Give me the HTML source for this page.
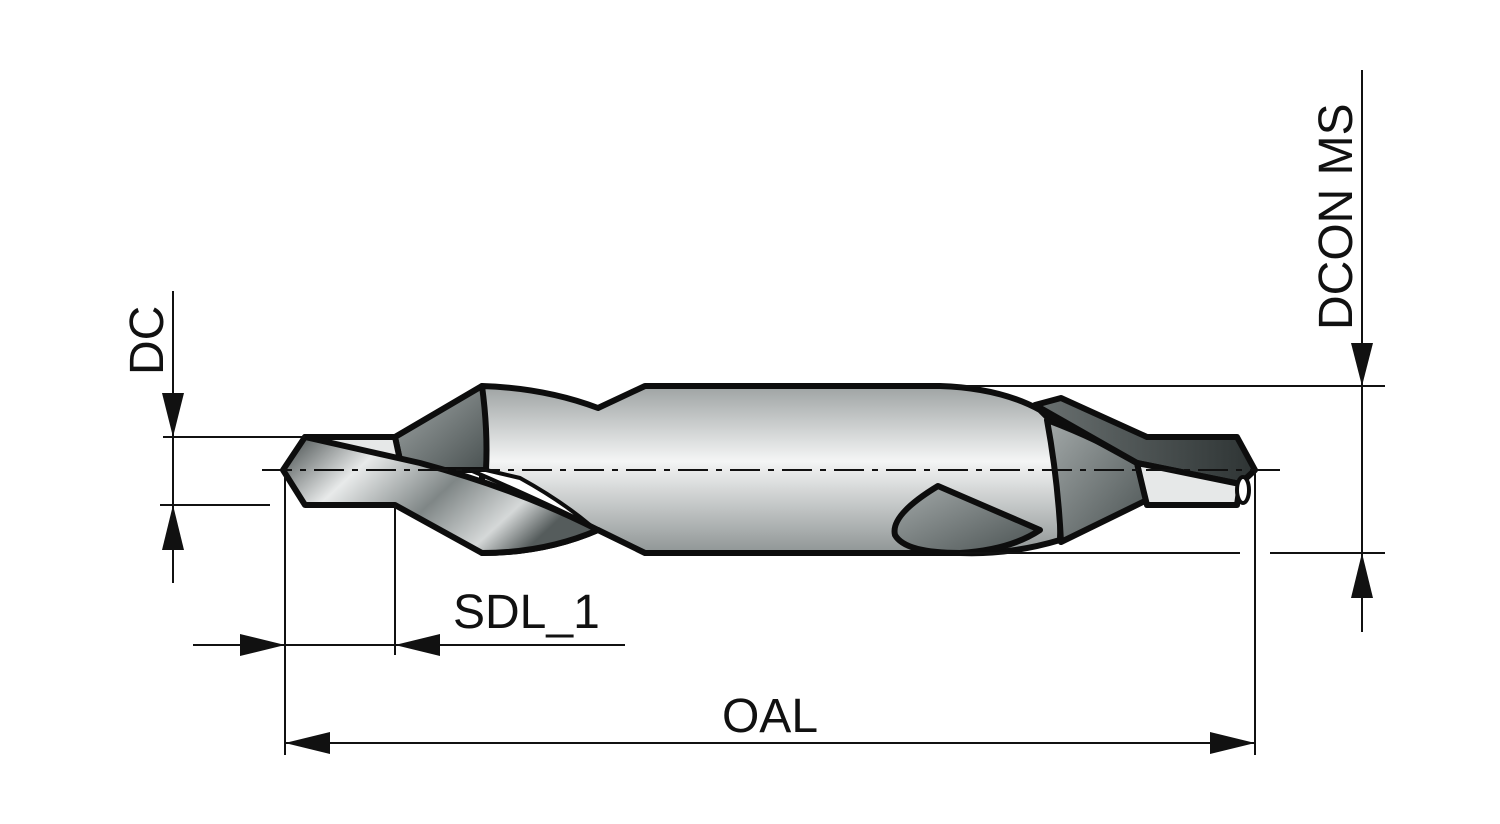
<!DOCTYPE html>
<html><head><meta charset="utf-8"><style>
html,body{margin:0;padding:0;background:#fff;}
svg{display:block;}
text{font-family:"Liberation Sans",sans-serif;fill:#111;}
</style></head><body>
<svg width="1500" height="824" viewBox="0 0 1500 824" xmlns="http://www.w3.org/2000/svg">
<defs>
<linearGradient id="body" x1="0" y1="0" x2="0" y2="1">
<stop offset="0" stop-color="#9ea3a3"/><stop offset="0.45" stop-color="#f4f5f5"/><stop offset="1" stop-color="#8f9595"/>
</linearGradient>
<linearGradient id="dark" x1="0" y1="0" x2="1" y2="1">
<stop offset="0" stop-color="#a3a9a9"/><stop offset="1" stop-color="#4a5252"/>
</linearGradient>
<linearGradient id="flute" x1="0" y1="0" x2="1" y2="0.4">
<stop offset="0" stop-color="#3d4444"/><stop offset="0.3" stop-color="#e8eaea"/><stop offset="0.6" stop-color="#7f8686"/><stop offset="0.85" stop-color="#d5d8d8"/><stop offset="1" stop-color="#555c5c"/>
</linearGradient>
<linearGradient id="rdark" x1="0" y1="0" x2="1" y2="0">
<stop offset="0" stop-color="#6a7171"/><stop offset="1" stop-color="#2e3434"/>
</linearGradient>
</defs>
<g stroke="#0d0d0d" stroke-width="6" stroke-linejoin="round">
<path d="M482 386 Q545 388 598 408 L645 386 L940 386 Q1000 388 1040 410 L1050 420 Q1062 480 1060 540 Q1010 555 960 553 L645 553 L598 530 Q545 553 482 553 Z" fill="url(#body)"/>
<path d="M395 437 L482 386 Q488 430 486 470 L440 470 L400 460 Z" fill="url(#dark)"/>
<path d="M305 437 L395 437 L400 460 Z" fill="#e6e8e8"/>
<path d="M305 437 L420 463 Q520 490 598 530 Q545 553 482 553 L395 505 L305 505 L283 470 Z" fill="url(#flute)"/>
<path d="M486 470 L520 478 Q560 500 590 525 Q540 500 470 470 Z" fill="#fff" stroke-width="4"/>
<path d="M938 486 Q890 515 895 535 Q905 553 960 553 Q1010 550 1040 530 Z" fill="url(#dark)"/>
<path d="M1047 420 Q1100 440 1137 463 Q1142 485 1147 500 L1061 542 Q1058 480 1047 420 Z" fill="url(#dark)"/>
<path d="M1035 405 L1061 398 L1147 437 L1237 437 L1255 470 L1240 484 L1137 463 Z" fill="url(#rdark)"/>
<path d="M1137 463 L1240 484 L1237 505 L1147 505 Q1142 485 1137 463 Z" fill="#e6e8e8"/>
<path d="M1040 410 L1137 463" fill="none"/>
<ellipse cx="1243" cy="490" rx="6" ry="13" fill="#fff" stroke-width="4"/>
</g>
<line x1="262" y1="470" x2="1280" y2="470" stroke="#111" stroke-width="2" stroke-dasharray="30 8 6 8"/>
<g stroke="#111" stroke-width="2" fill="none">
<line x1="173" y1="291" x2="173" y2="583"/>
<line x1="163" y1="437" x2="305" y2="437"/>
<line x1="160" y1="505" x2="270" y2="505"/>
<line x1="1362" y1="70" x2="1362" y2="632"/>
<line x1="940" y1="386" x2="1385" y2="386"/>
<line x1="960" y1="553" x2="1240" y2="553"/>
<line x1="1270" y1="553" x2="1385" y2="553"/>
<line x1="285" y1="475" x2="285" y2="755"/>
<line x1="1255" y1="470" x2="1255" y2="755"/>
<line x1="285" y1="743" x2="1255" y2="743"/>
<line x1="395" y1="505" x2="395" y2="655"/>
<line x1="193" y1="645" x2="625" y2="645"/>
</g>
<g fill="#111">
<polygon points="173,437 162,393 184,393"/>
<polygon points="173,505 162,550 184,550"/>
<polygon points="1362,386 1351,343 1373,343"/>
<polygon points="1362,553 1351,598 1373,598"/>
<polygon points="285,743 330,732 330,754"/>
<polygon points="1255,743 1210,732 1210,754"/>
<polygon points="285,645 240,634 240,656"/>
<polygon points="395,645 440,634 440,656"/>
</g>
<text x="0" y="0" font-size="48" transform="translate(163,375) rotate(-90)">DC</text>
<text x="0" y="0" font-size="48" transform="translate(1352,330) rotate(-90)">DCON MS</text>
<text x="770" y="732" font-size="48" text-anchor="middle">OAL</text>
<text x="453" y="628" font-size="48">SDL_1</text>
</svg>
</body></html>
